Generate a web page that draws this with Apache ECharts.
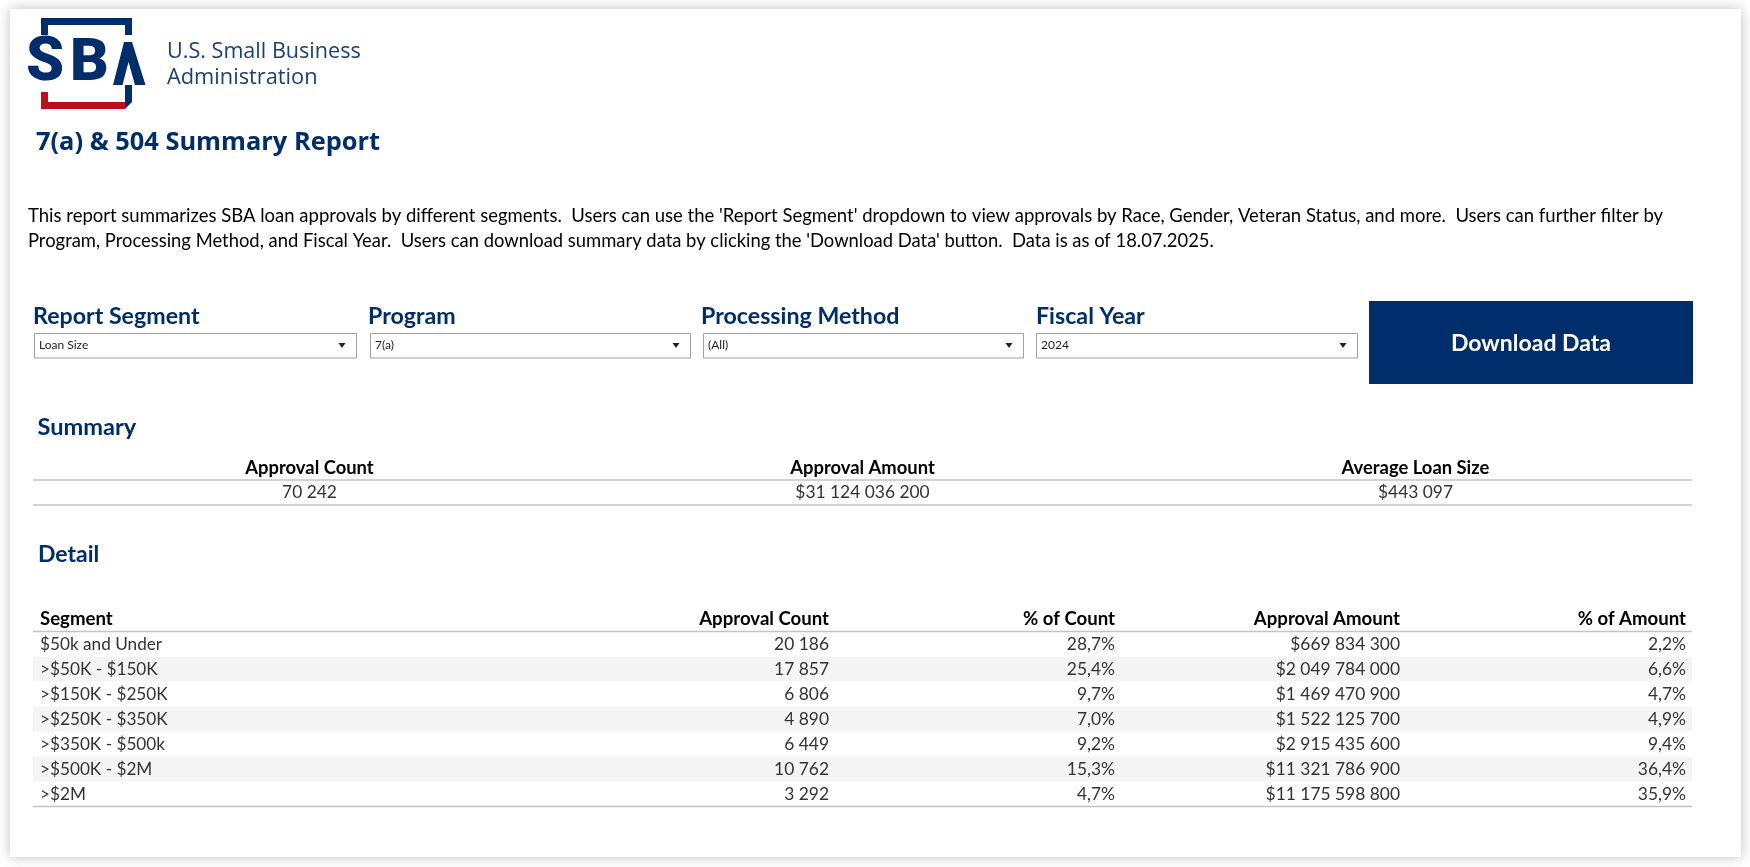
<!DOCTYPE html>
<html>
<head>
<meta charset="utf-8">
<title>7(a) & 504 Summary Report</title>
<script src="https://cdn.jsdelivr.net/npm/echarts@6/dist/echarts.min.js"></script>
<style>
  html, body { margin: 0; padding: 0; background: #fff; }
  #main { width: 1750px; height: 867px; }
</style>
</head>
<body>
<div id="main"></div>
<script>
// table data
var summaryHeads = ['Approval Count', 'Approval Amount', 'Average Loan Size'];
var summaryValues = [70242, 31124036200, 443097];

var detailHeads = ['Segment', 'Approval Count', '% of Count', 'Approval Amount', '% of Amount'];
var segments = ['$50k and Under', '>$50K - $150K', '>$150K - $250K', '>$250K - $350K', '>$350K - $500k', '>$500K - $2M', '>$2M'];
var counts = [20186, 17857, 6806, 4890, 6449, 10762, 3292];
var pctCount = [28.7, 25.4, 9.7, 7.0, 9.2, 15.3, 4.7];
var amounts = [669834300, 2049784000, 1469470900, 1522125700, 2915435600, 11321786900, 11175598800];
var pctAmount = [2.2, 6.6, 4.7, 4.9, 9.4, 36.4, 35.9];

// filters
var filterLabels = ['Report Segment', 'Program', 'Processing Method', 'Fiscal Year'];
var filterValues = ['Loan Size', '7(a)', '(All)', '2024'];

var NAVY = '#002e6d';
var FONT = 'Lato';

function num(v) {
  return String(v).replace(/\B(?=(\d{3})+$)/g, ' ');
}
function money(v) {
  return '$' + num(v);
}
function pct(v) {
  return v.toFixed(1).replace('.', ',') + '%';
}

var summaryTexts = [num(summaryValues[0]), money(summaryValues[1]), money(summaryValues[2])];

// rows of the detail table, the header is row 0
var rowNames = ['head'].concat(segments);
var detailRows = [detailHeads];
segments.forEach(function (s, i) {
  detailRows.push([s, num(counts[i]), pct(pctCount[i]), money(amounts[i]), pct(pctAmount[i])]);
});

// page furniture
var boxX = [[34, 356], [370, 690], [703, 1023], [1036, 1357]];
var labelX = [33, 368, 701, 1036];
var colRight = [0, 829, 1115, 1400, 1686];

function txt(x, y, s, size, weight, color, align, family) {
  return {
    type: 'text', x: x, y: y,
    style: {
      text: s, fontSize: size, fontWeight: weight || 'normal', fill: color || '#000',
      fontFamily: family || FONT, align: align || 'left', verticalAlign: 'middle'
    }
  };
}
function box(x, y, w, h, fill, stroke) {
  return { type: 'rect', shape: { x: x, y: y, width: w, height: h }, style: { fill: fill, stroke: stroke || null, lineWidth: 1 } };
}
function poly(points, fill) {
  return { type: 'polygon', shape: { points: points }, style: { fill: fill } };
}

var furniture = [];
// card
furniture.push({
  type: 'rect', shape: { x: 10, y: 9, width: 1731, height: 848 },
  style: { fill: '#fff', shadowBlur: 12, shadowColor: 'rgba(0,0,0,0.25)' }
});

// logo
furniture.push(poly([[41, 18], [132, 18], [132, 35], [125, 35], [125, 25], [48, 25], [48, 35], [41, 35]], NAVY));
furniture.push(poly([[41, 92], [48, 92], [48, 102], [127, 102], [125, 109], [41, 109]], '#c00d1e'));
furniture.push(poly([[125, 85], [132, 85], [132, 102], [125, 109], [125, 102]], NAVY));
furniture.push(txt(26, 64.5, 'S', 61, 900, NAVY, 'left', 'Roboto'));
furniture.push(txt(70, 64.5, 'B', 60, 900, NAVY, 'left', 'Roboto'));
furniture.push(poly([[124, 42], [132, 42], [145.5, 85], [135, 85], [128.5, 62], [122.5, 85], [113, 85]], NAVY));
furniture.push(txt(167, 51.5, 'U.S. Small Business', 21.6, 'normal', '#1d3f73', 'left', 'Open Sans'));
furniture.push(txt(167, 77.5, 'Administration', 21.8, 'normal', '#1d3f73', 'left', 'Open Sans'));

// title and description
furniture.push(txt(36, 143, '7(a) & 504 Summary Report', 25.4, 'bold', NAVY, 'left', 'Open Sans'));
furniture.push(txt(28, 216, "This report summarizes SBA loan approvals by different segments.  Users can use the 'Report Segment' dropdown to view approvals by Race, Gender, Veteran Status, and more.  Users can further filter by", 18.5));
furniture.push(txt(28, 241, "Program, Processing Method, and Fiscal Year.  Users can download summary data by clicking the 'Download Data' button.  Data is as of 18.07.2025.", 18.4));

// filter dropdowns
filterLabels.forEach(function (label, i) {
  var b = boxX[i];
  furniture.push(txt(labelX[i], 317, label, 23.2, 'bold', NAVY));
  furniture.push(box(b[0] + 0.5, 333.5, b[1] - b[0], 24.5, '#fff', '#a0a0a0'));
  furniture.push(txt(b[0] + 5, 345.5, filterValues[i], 12, 'normal', '#222'));
  var ax = b[1] - 14;
  furniture.push(poly([[ax - 3.5, 343], [ax + 3.5, 343], [ax, 348]], '#222'));
});

// download button
furniture.push(box(1369, 301, 324, 83, NAVY));
furniture.push(txt(1531, 344, 'Download Data', 23, 'bold', '#fff', 'center'));

// section titles
furniture.push(txt(37.5, 427, 'Summary', 23.6, 'bold', NAVY));
furniture.push(txt(38, 555, 'Detail', 23, 'bold', NAVY));

function hairline(api, x1, x2, y) {
  return {
    type: 'line', shape: { x1: x1, y1: y, x2: x2, y2: y },
    style: { stroke: '#c4c4c4', lineWidth: 1.5 }
  };
}

// summary table: one cell per column and row
function renderSummary(params, api) {
  var col = api.value(0), row = api.value(1);
  var p = api.coord([col, row]);
  var s = api.size([1, 1]);
  var kids = [{
    type: 'text', x: p[0], y: row === 0 ? p[1] + 1 : p[1],
    style: {
      text: row === 0 ? summaryHeads[col] : summaryTexts[col],
      fontFamily: FONT, fontSize: row === 0 ? 18.4 : 17.4, fontWeight: row === 0 ? 'bold' : 'normal',
      fill: row === 0 ? '#000' : '#333', align: 'center', verticalAlign: 'middle'
    }
  }];
  kids.push(hairline(api, p[0] - s[0] / 2, p[0] + s[0] / 2, p[1] + s[1] / 2));
  return { type: 'group', children: kids };
}

// detail table: one item per row
function renderDetail(params, api) {
  var row = api.value(0);
  var p = api.coord([0, row]);
  var s = api.size([1, 1]);
  var left = params.coordSys.x, right = left + params.coordSys.width;
  var kids = [];
  if (row > 0 && row % 2 === 0) {
    kids.push({ type: 'rect', shape: { x: left, y: p[1] - s[1] / 2, width: right - left, height: s[1] }, style: { fill: '#f5f5f5' } });
  }
  if (row === 0 || row === detailRows.length - 1) {
    kids.push(hairline(api, left, right, p[1] + s[1] / 2));
  }
  detailRows[row].forEach(function (t, c) {
    var size = row === 0 ? 18.6 : (c === 0 ? 17.2 : 17.4);
    kids.push({
      type: 'text', x: c === 0 ? left + 7 : colRight[c], y: p[1],
      style: {
        text: t, fontFamily: FONT, fontSize: size, fontWeight: row === 0 ? 'bold' : 'normal',
        fill: row === 0 ? '#000' : '#333', align: c === 0 ? 'left' : 'right', verticalAlign: 'middle'
      }
    });
  });
  return { type: 'group', children: kids };
}

var summaryData = [];
summaryHeads.forEach(function (h, c) {
  summaryData.push([c, 0]);
  summaryData.push([c, 1]);
});

var hiddenAxis = { show: false };

var chart = echarts.init(document.getElementById('main'));
chart.setOption({
  animation: false,
  backgroundColor: '#fff',
  graphic: { elements: furniture },
  grid: [
    { left: 33, width: 1659, top: 455, height: 50 },
    { left: 33, width: 1659, top: 606.5, height: 200 }
  ],
  xAxis: [
    Object.assign({ type: 'category', gridIndex: 0, data: summaryHeads }, hiddenAxis),
    Object.assign({ type: 'category', gridIndex: 1, data: detailHeads }, hiddenAxis)
  ],
  yAxis: [
    Object.assign({ type: 'category', gridIndex: 0, data: ['head', 'value'], inverse: true }, hiddenAxis),
    Object.assign({ type: 'category', gridIndex: 1, data: rowNames, inverse: true }, hiddenAxis)
  ],
  series: [
    { type: 'custom', xAxisIndex: 0, yAxisIndex: 0, data: summaryData, renderItem: renderSummary, clip: false, silent: true },
    { type: 'custom', xAxisIndex: 1, yAxisIndex: 1, data: rowNames.map(function (n, i) { return [i]; }), encode: { y: 0 }, renderItem: renderDetail, clip: false, silent: true }
  ]
});
</script>
</body>
</html>
